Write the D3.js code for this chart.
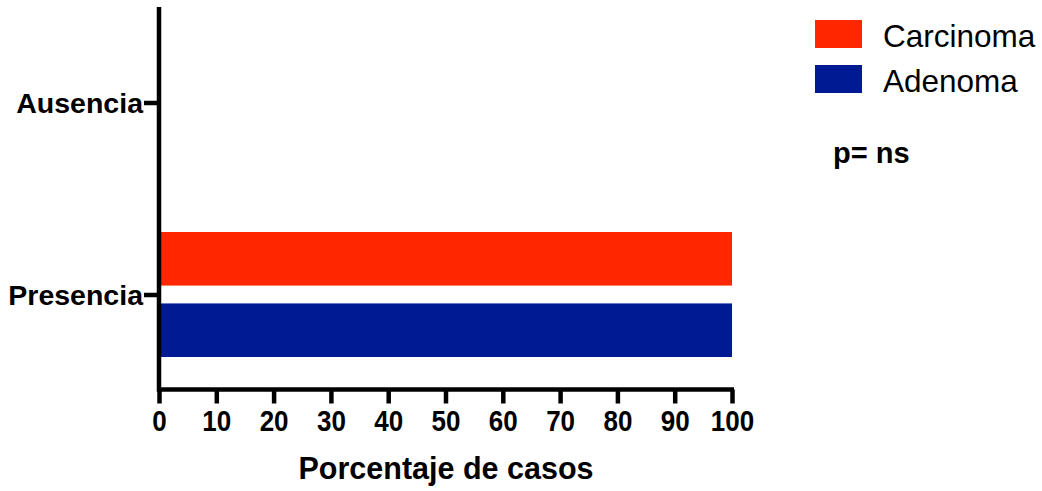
<!DOCTYPE html>
<html>
<head>
<meta charset="utf-8">
<script src="https://cdn.jsdelivr.net/npm/d3@7"></script>
<style>
  body { margin: 0; background: #fff; }
  svg text { font-family: "Liberation Sans", Arial, sans-serif; }
</style>
</head>
<body>
<div id="chart"></div>
<script>
// data
var categories = ["Ausencia", "Presencia"];
var seriesNames = ["Carcinoma", "Adenoma"];
var carcinoma = [0, 100];
var adenoma = [0, 100];
var xTicks = [0, 10, 20, 30, 40, 50, 60, 70, 80, 90, 100];
var colors = ["#FF2600", "#001A93"];

var width = 1042, height = 491;

var svg = d3.select("#chart")
    .append("svg")
    .attr("width", width)
    .attr("height", height);

var x = d3.scaleLinear().domain([0, 100]).range([159, 732]);
var y = d3.scaleBand().domain(categories).range([7, 391]);

// sub-band for the two series inside each category
var inner = d3.scaleBand().domain(seriesNames)
    .range([y.bandwidth() / 2 - 63, y.bandwidth() / 2 + 62])
    .paddingInner(0.25);

var rows = categories.map(function(c, i) {
    return {cat: c, values: [carcinoma[i], adenoma[i]]};
});

// bars
svg.append("g").selectAll("g")
    .data(rows)
    .enter().append("g")
    .attr("transform", function(d) { return "translate(0," + y(d.cat) + ")"; })
    .selectAll("rect")
    .data(function(d) { return d.values.map(function(v, j) { return {name: seriesNames[j], value: v}; }); })
    .enter().append("rect")
    .attr("x", x(0))
    .attr("y", function(d) { return inner(d.name); })
    .attr("height", inner.bandwidth())
    .attr("width", function(d) { return x(d.value) - x(0); })
    .attr("fill", function(d, j) { return colors[j]; });

// x axis
var xAxis = svg.append("g")
    .attr("transform", "translate(0,389.5)")
    .call(d3.axisBottom(x).tickValues(xTicks).tickSize(14).tickSizeOuter(0));
xAxis.select(".domain").attr("stroke", "#000").attr("stroke-width", 4.5)
    .attr("d", "M" + (x(0) - 2) + ",0H" + (x(100) + 2));
xAxis.selectAll(".tick line").attr("stroke", "#000").attr("stroke-width", 4.5);
xAxis.selectAll(".tick text")
    .attr("fill", "#000")
    .attr("y", 0)
    .attr("dy", null)
    .attr("transform", "translate(0,41.5) scale(1,1.1)")
    .style("font-size", "26px")
    .style("font-weight", "bold");

// y axis
var yAxis = svg.append("g")
    .attr("transform", "translate(" + x(0) + ",0)")
    .call(d3.axisLeft(y).tickSize(15).tickPadding(1).tickSizeOuter(0));
yAxis.select(".domain").attr("stroke", "#000").attr("stroke-width", 4.5)
    .attr("d", "M0,7V391.5");
yAxis.selectAll(".tick line").attr("stroke", "#000").attr("stroke-width", 4.5);
yAxis.selectAll(".tick text")
    .attr("fill", "#000")
    .attr("dy", "0.36em")
    .style("font-size", "28.5px")
    .style("font-weight", "bold");

// axis title
svg.append("text")
    .attr("text-anchor", "middle")
    .attr("x", (x(0) + x(100)) / 2 + 0.5)
    .attr("y", 479)
    .style("font-size", "30.5px")
    .style("font-weight", "bold")
    .text("Porcentaje de casos");

// legend
var legend = svg.append("g").selectAll("g")
    .data(seriesNames)
    .enter().append("g")
    .attr("transform", function(d, i) { return "translate(815," + (20 + i * 45) + ")"; });
legend.append("rect")
    .attr("width", 47)
    .attr("height", 28)
    .attr("fill", function(d, i) { return colors[i]; });
legend.append("text")
    .attr("x", 68)
    .attr("y", 26.5)
    .style("font-size", "31.5px")
    .text(function(d) { return d; });

svg.append("text")
    .attr("x", 833)
    .attr("y", 163)
    .style("font-size", "29px")
    .style("font-weight", "bold")
    .text("p= ns");
</script>
</body>
</html>
